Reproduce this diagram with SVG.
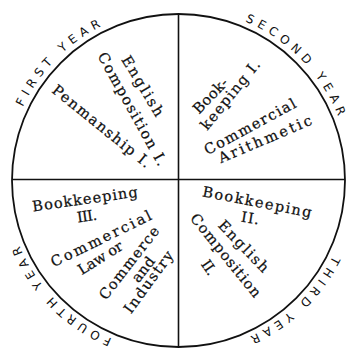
<svg xmlns="http://www.w3.org/2000/svg" xmlns:xlink="http://www.w3.org/1999/xlink" width="355" height="351" viewBox="0 0 355 351">
<style>
.ring{fill:none;stroke:#111;stroke-width:1.8}
.div{stroke:#111;stroke-width:1.6}
.yr{font-family:"DejaVu Sans",sans-serif;font-size:12px;letter-spacing:5px;fill:#111}
.c{font-family:"DejaVu Serif","Liberation Serif",serif;font-size:14.5px;fill:#111;stroke:#111;stroke-width:0.25;text-anchor:middle}
</style>
<defs>
<path id="orbit" d="M 6.5,180 A 172 172 0 1 1 350.5,180 A 172 172 0 1 1 6.5,180"/>
</defs>
<rect width="355" height="351" fill="#fff"/>
<circle class="ring" cx="178.5" cy="180.5" r="166.5"/>
<g id="connectors">
<line class="div" x1="178.5" y1="14" x2="178.5" y2="347"/>
<line class="div" x1="12" y1="179.5" x2="345" y2="179.5"/>
</g>
<g id="year-labels">
<text class="yr"><textPath xlink:href="#orbit" href="#orbit" startOffset="135" text-anchor="middle">FIRST YEAR</textPath></text>
<text class="yr"><textPath xlink:href="#orbit" href="#orbit" startOffset="409" text-anchor="middle">SECOND YEAR</textPath></text>
<text class="yr"><textPath xlink:href="#orbit" href="#orbit" startOffset="680" text-anchor="middle">THIRD YEAR</textPath></text>
<text class="yr"><textPath xlink:href="#orbit" href="#orbit" startOffset="948" text-anchor="middle">FOURTH YEAR</textPath></text>
</g>
<g id="first-year">
<text class="c" transform="translate(138.6,88.6) rotate(59)" textLength="68" lengthAdjust="spacing">English</text>
<text class="c" transform="translate(128,111.4) rotate(61)" textLength="127" lengthAdjust="spacing">Composition I.</text>
<text class="c" transform="translate(98.5,130.1) rotate(39)" textLength="122" lengthAdjust="spacing">Penmanship I.</text>
</g>
<g id="second-year">
<text class="c" transform="translate(213.9,99.3) rotate(-46)" textLength="43" lengthAdjust="spacing">Book-</text>
<text class="c" transform="translate(234.1,98) rotate(-51)" textLength="85" lengthAdjust="spacing">keeping I.</text>
<text class="c" transform="translate(252.4,131) rotate(-28.5)" textLength="102" lengthAdjust="spacing">Commercial</text>
<text class="c" transform="translate(267,143.7) rotate(-23)" textLength="100" lengthAdjust="spacing">Arithmetic</text>
</g>
<g id="third-year">
<text class="c" transform="translate(256.2,206.9) rotate(11)" textLength="111" lengthAdjust="spacing">Bookkeeping</text>
<text class="c" transform="translate(249.4,223) rotate(9)" textLength="18" lengthAdjust="spacing">II.</text>
<text class="c" transform="translate(240.1,249.8) rotate(46)" textLength="66" lengthAdjust="spacing">English</text>
<text class="c" transform="translate(221.9,258.5) rotate(51)" textLength="103" lengthAdjust="spacing">Composition</text>
<text class="c" transform="translate(204.7,270.3) rotate(55)" textLength="15" lengthAdjust="spacing">II.</text>
</g>
<g id="fourth-year">
<text class="c" transform="translate(85.6,204) rotate(-8)" textLength="106" lengthAdjust="spacing">Bookkeeping</text>
<text class="c" transform="translate(87.6,221) rotate(-8)" textLength="20" lengthAdjust="spacing">III.</text>
<text class="c" transform="translate(103.3,243.1) rotate(-26)" textLength="110" lengthAdjust="spacing">Commercial</text>
<text class="c" transform="translate(103,262) rotate(-32)" textLength="50" lengthAdjust="spacing">Law or</text>
<text class="c" transform="translate(133,266) rotate(-52)" textLength="88" lengthAdjust="spacing">Commerce</text>
<text class="c" transform="translate(147,272.5) rotate(-52)" textLength="28" lengthAdjust="spacing">and</text>
<text class="c" transform="translate(152.5,285) rotate(-54)" textLength="73" lengthAdjust="spacing">Industry</text>
</g>
</svg>
